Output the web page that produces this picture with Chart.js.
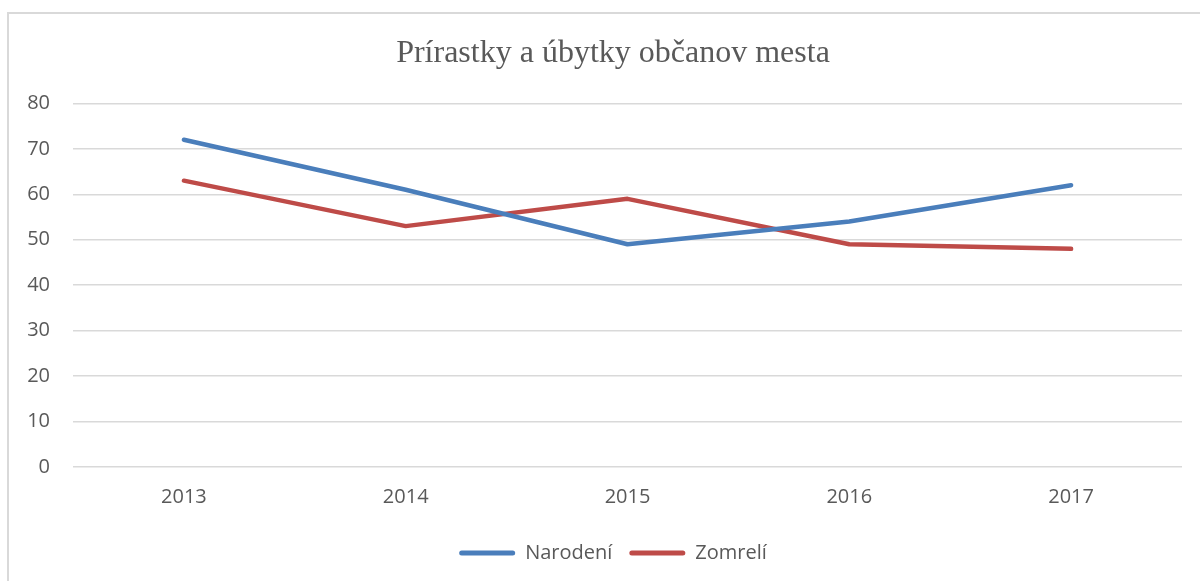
<!DOCTYPE html>
<html>
<head>
<meta charset="utf-8">
<script src="https://cdn.jsdelivr.net/npm/chart.js@4"></script>
<style>
  html, body { margin: 0; padding: 0; background: #fff; overflow: hidden; }
  .ramik { position: absolute; left: 7px; top: 12px; width: 1300px; height: 700px; border: 2px solid #d9d9d9; }
  .obal { position: absolute; left: 0; top: 0; width: 1200px; height: 581px; }
</style>
</head>
<body>
<div class="ramik"></div>
<div class="obal"><canvas id="graf" width="1200" height="581"></canvas></div>
<script>
// udaje z grafu
const roky = ['2013', '2014', '2015', '2016', '2017'];
const narodeni = [72, 61, 49, 54, 62];
const zomreli = [63, 53, 59, 49, 48];
const nazov = 'Prírastky a úbytky občanov mesta';

const sedaText = '#595959';
const sedaMriezka = '#d9d9d9';

// nadpis a legenda su v predlohe posunute trochu doprava
const posunStredu = {
  id: 'posunStredu',
  afterLayout(chart) {
    if (chart.titleBlock) chart.titleBlock.left += 44;
    if (chart.legend) chart.legend.left += 44;
  }
};

const ctx = document.getElementById('graf');

new Chart(ctx, {
  type: 'line',
  data: {
    labels: roky,
    datasets: [
      {
        label: 'Narodení',
        data: narodeni,
        borderColor: '#4a7ebb',
        backgroundColor: '#4a7ebb',
        borderWidth: 4.5,
        borderCapStyle: 'round',
        borderJoinStyle: 'round',
        pointRadius: 0,
        tension: 0
      },
      {
        label: 'Zomrelí',
        data: zomreli,
        borderColor: '#be4b48',
        backgroundColor: '#be4b48',
        borderWidth: 4.5,
        borderCapStyle: 'round',
        borderJoinStyle: 'round',
        pointRadius: 0,
        tension: 0
      }
    ]
  },
  options: {
    responsive: false,
    animation: false,
    layout: { padding: { left: 0, right: 18, top: 0, bottom: 8 } },
    plugins: {
      title: {
        display: true,
        text: nazov,
        color: sedaText,
        font: { family: 'Liberation Serif', size: 32, weight: 'normal', lineHeight: 1.2 },
        padding: { top: 34, bottom: 31 }
      },
      legend: {
        position: 'bottom',
        labels: {
          color: sedaText,
          font: { family: 'Open Sans', size: 20 },
          boxWidth: 56,
          boxHeight: 5,
          padding: 17,
          generateLabels: (chart) => chart.data.datasets.map((ds, i) => ({
            text: ds.label,
            fillStyle: ds.borderColor,
            strokeStyle: ds.borderColor,
            lineWidth: 0,
            borderRadius: 2.5,
            fontColor: sedaText,
            datasetIndex: i
          }))
        }
      },
      tooltip: { enabled: false }
    },
    scales: {
      x: {
        offset: true,
        grid: { display: false, drawTicks: false },
        border: { display: false },
        ticks: { color: sedaText, font: { family: 'Open Sans', size: 20 }, padding: 18, maxRotation: 0 },
        afterFit: (scale) => { scale.height = 59; }
      },
      y: {
        min: 0,
        max: 80,
        grid: { color: sedaMriezka, lineWidth: 1.5, drawTicks: false },
        border: { display: false },
        ticks: { stepSize: 10, color: sedaText, font: { family: 'Open Sans', size: 20 }, padding: 23 },
        afterFit: (scale) => { scale.width = 73; }
      }
    }
  },
  plugins: [posunStredu]
});
</script>
</body>
</html>
